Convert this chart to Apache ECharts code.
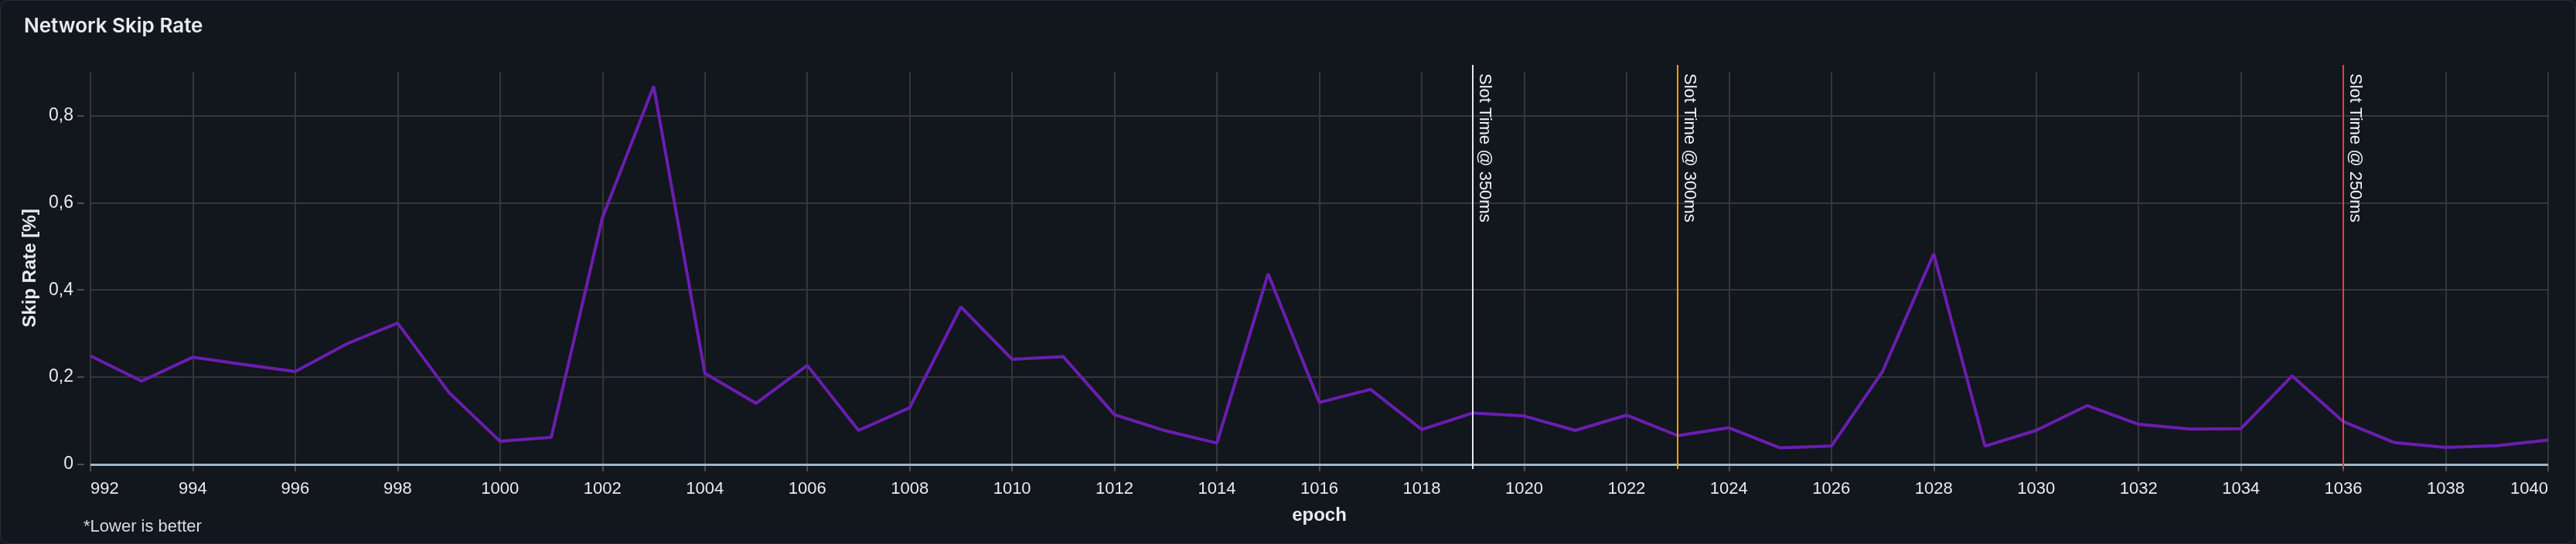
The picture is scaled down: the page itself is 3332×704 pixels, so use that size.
<!DOCTYPE html>
<html>
<head>
<meta charset="utf-8">
<title>Network Skip Rate</title>
<script src="https://cdn.jsdelivr.net/npm/echarts@6/dist/echarts.min.js"></script>
<style>
  html, body { margin: 0; padding: 0; background: #12161d; }
  #chart {
    width: 3332px; height: 704px;
    background: #12161d;
    border-radius: 10px;
    box-shadow: inset 0 0 0 1px #2a2f37;
  }
</style>
</head>
<body>
<div id="chart"></div>
<script>
// epochs on the x axis
const epochs = [
  992, 993, 994, 995, 996, 997, 998, 999, 1000, 1001,
  1002, 1003, 1004, 1005, 1006, 1007, 1008, 1009, 1010, 1011,
  1012, 1013, 1014, 1015, 1016, 1017, 1018, 1019, 1020, 1021,
  1022, 1023, 1024, 1025, 1026, 1027, 1028, 1029, 1030, 1031,
  1032, 1033, 1034, 1035, 1036, 1037, 1038, 1039, 1040
];
// skip rate in percent
const skipRate = [
  0.249, 0.191, 0.246, 0.229, 0.213, 0.276, 0.324, 0.165, 0.053, 0.062,
  0.566, 0.867, 0.209, 0.140, 0.227, 0.078, 0.130, 0.361, 0.241, 0.247,
  0.114, 0.077, 0.049, 0.437, 0.142, 0.172, 0.080, 0.118, 0.111, 0.078,
  0.113, 0.066, 0.084, 0.038, 0.042, 0.213, 0.483, 0.042, 0.078, 0.135,
  0.092, 0.081, 0.082, 0.203, 0.098, 0.050, 0.039, 0.043, 0.056
];
// slot time change markers
const slotEpochs = [1019, 1023, 1036];
const slotLabels = ['Slot Time @ 350ms', 'Slot Time @ 300ms', 'Slot Time @ 250ms'];
const slotColors = ['#e6e8eb', '#f5a000', '#ff3b2f'];

const axisFont = '"Liberation Sans", Arial, sans-serif';
const textColor = '#e8eaed';
const gridColor = '#34363a';

const chart = echarts.init(document.getElementById('chart'), null, { renderer: 'canvas' });

// markline data: from top to bottom so the text reads downwards
const slotLines = slotEpochs.map((e, i) => ([
  {
    coord: [e, 1],
    lineStyle: { color: slotColors[i] },
    label: { formatter: slotLabels[i] }
  },
  { coord: [e, 0] }
]));

chart.setOption({
  backgroundColor: 'transparent',
  animation: false,
  title: {
    text: 'Network Skip Rate',
    left: 26,
    top: 16,
    textStyle: {
      color: '#e8ecf1',
      fontFamily: 'Inter, "Noto Sans", sans-serif',
      fontWeight: 600,
      fontSize: 26
    }
  },
  graphic: [{
    type: 'text',
    left: 108,
    top: 671,
    style: {
      text: '*Lower is better',
      fill: '#d8dbe0',
      font: '22px ' + axisFont
    }
  }],
  grid: [
    { left: 117, right: 36, top: 93, bottom: 103 },
    // a slightly taller twin grid, only for the slot time rules
    { left: 117, right: 36, top: 84, bottom: 97 }
  ],
  xAxis: [{
    type: 'value',
    gridIndex: 0,
    min: 992,
    max: 1040,
    interval: 2,
    offset: 7,
    name: 'epoch',
    nameLocation: 'middle',
    nameGap: 47,
    nameTextStyle: { color: textColor, fontFamily: axisFont, fontWeight: 'bold', fontSize: 24 },
    axisLine: { show: false },
    axisTick: { show: true, length: 9, lineStyle: { color: '#4a4d52', width: 2 } },
    axisLabel: {
      color: textColor, fontFamily: axisFont, fontSize: 22, margin: 14,
      alignMinLabel: 'left', alignMaxLabel: 'right',
      formatter: v => String(v)
    },
    splitLine: { show: true, lineStyle: { color: gridColor, width: 2 } }
  }, {
    type: 'value',
    gridIndex: 1,
    min: 992,
    max: 1040,
    show: false
  }],
  yAxis: [{
    type: 'value',
    gridIndex: 0,
    min: 0,
    max: 0.9,
    interval: 0.2,
    offset: 8,
    name: 'Skip Rate [%]',
    nameLocation: 'middle',
    nameGap: 58,
    nameTextStyle: { color: textColor, fontFamily: axisFont, fontWeight: 'bold', fontSize: 24 },
    axisLine: { show: false },
    axisTick: { show: true, length: 9, lineStyle: { color: '#4a4d52', width: 2 } },
    axisLabel: {
      color: textColor, fontFamily: axisFont, fontSize: 23, margin: 14,
      showMaxLabel: false,
      formatter: v => (+v.toFixed(1)).toString().replace('.', ',')
    },
    splitLine: { show: true, showMaxLine: false, lineStyle: { color: gridColor, width: 2 } }
  }, {
    type: 'value',
    gridIndex: 1,
    min: 0,
    max: 1,
    show: false
  }],
  series: [{
    name: 'Skip Rate',
    type: 'line',
    xAxisIndex: 0,
    yAxisIndex: 0,
    data: epochs.map((e, i) => [e, skipRate[i]]),
    showSymbol: false,
    lineStyle: { color: '#6a1eb0', width: 4 },
    z: 3,
    markLine: {
      silent: true,
      symbol: 'none',
      label: { show: false },
      lineStyle: { color: '#a3b6c4', width: 3, type: 'solid' },
      data: [{ yAxis: 0 }]
    }
  }, {
    name: 'slots',
    type: 'line',
    xAxisIndex: 1,
    yAxisIndex: 1,
    data: [],
    z: 4,
    markLine: {
      silent: true,
      symbol: 'none',
      lineStyle: { width: 2, type: 'solid' },
      label: {
        show: true,
        position: 'insideStartTop',
        distance: [11, 4],
        color: '#f2f3f5',
        fontFamily: axisFont,
        fontSize: 22
      },
      data: slotLines
    }
  }]
});
</script>
</body>
</html>
